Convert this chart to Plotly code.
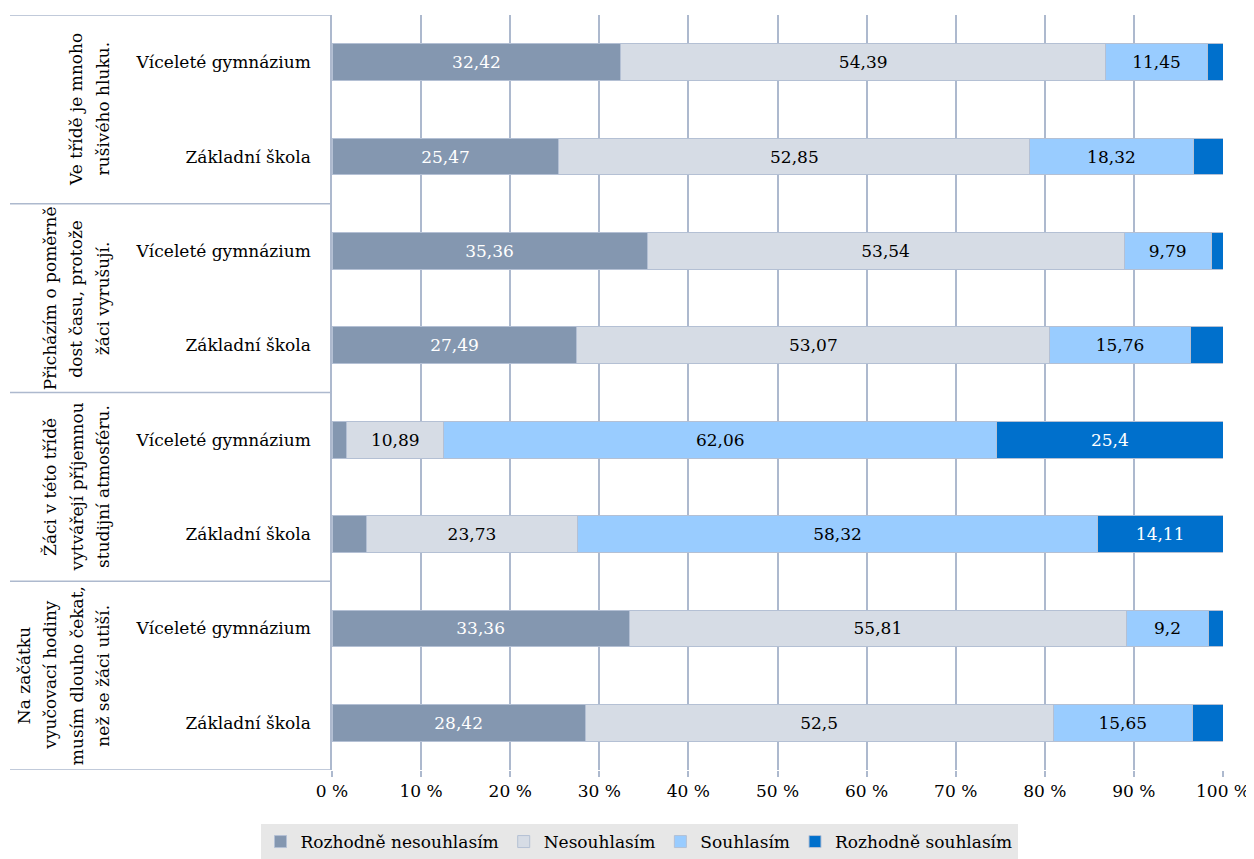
import plotly.graph_objects as go

# bars from top to bottom
schools = ["Víceleté gymnázium", "Základní škola"] * 4
statements = [
    ["Ve třídě je mnoho", "rušivého hluku."],
    ["Přicházím o poměrně", "dost času, protože", "žáci vyrušují."],
    ["Žáci v této třídě", "vytvářejí příjemnou", "studijní atmosféru."],
    ["Na začátku", "vyučovací hodiny", "musím dlouho čekat,", "než se žáci utiší."],
]

series_names = ["Rozhodně nesouhlasím", "Nesouhlasím", "Souhlasím", "Rozhodně souhlasím"]
rozhodne_nesouhlasim = [32.42, 25.47, 35.36, 27.49, 1.65, 3.84, 33.36, 28.42]
nesouhlasim = [54.39, 52.85, 53.54, 53.07, 10.89, 23.73, 55.81, 52.5]
souhlasim = [11.45, 18.32, 9.79, 15.76, 62.06, 58.32, 9.2, 15.65]
rozhodne_souhlasim = [1.74, 3.36, 1.31, 3.68, 25.4, 14.11, 1.63, 3.43]

# which bars carry a value label, per series
labelled = [
    [True, True, True, True, False, False, True, True],
    [True] * 8,
    [True] * 8,
    [False, False, False, False, True, True, False, False],
]

tick_labels = ["0 %", "10 %", "20 %", "30 %", "40 %", "50 %", "60 %", "70 %", "80 %", "90 %", "100 %"]
tick_values = [0, 10, 20, 30, 40, 50, 60, 70, 80, 90, 100]

colors = ["#8497B0", "#D6DCE5", "#99CCFF", "#0070CC"]
text_colors = ["white", "black", "black", "white"]
line_color = "#ADB9CE"
font_name = "DejaVu Serif"
fsize = 17

# the page body has an 8px margin on the left/top, so shift those margins
OFF = 8
W, H = 1254 - OFF, 859 - OFF
L, R, T, B = 332 - OFF, 31, 15 - OFF, 89
plot_w = W - L - R
plot_h = H - T - B

fig = go.Figure()
y_pos = list(range(len(schools)))
all_values = [rozhodne_nesouhlasim, nesouhlasim, souhlasim, rozhodne_souhlasim]

for name, values, color, tcolor, show in zip(series_names, all_values, colors, text_colors, labelled):
    texts = [str(v).replace(".", ",") if s else "" for v, s in zip(values, show)]
    fig.add_trace(go.Bar(
        y=y_pos, x=values, name=name, orientation="h",
        marker=dict(color=color, line=dict(color="#B4C0D4", width=1)),
        text=texts, textposition="inside", insidetextanchor="middle",
        textfont=dict(family=font_name, size=fsize, color=tcolor),
        width=0.39, hoverinfo="x+name",
    ))

fig.update_layout(
    width=W, height=H,
    barmode="stack",
    plot_bgcolor="white", paper_bgcolor="white",
    margin=dict(l=L, r=R, t=T, b=B, autoexpand=False),
    font=dict(family=font_name, size=fsize, color="black"),
    uniformtext=dict(mode="show", minsize=fsize),
    legend=dict(
        orientation="h", x=(639 - 332) / plot_w, xanchor="center",
        y=-(824 - 770) / plot_h, yanchor="top",
        bgcolor="#E7E7E7", font=dict(family=font_name, size=fsize),
        itemwidth=30, traceorder="normal",
    ),
    xaxis=dict(
        range=[0, 100], tickvals=tick_values, ticktext=tick_labels,
        showgrid=True, gridcolor=line_color, gridwidth=1.5,
        ticks="outside", ticklen=6, tickcolor=line_color, tickwidth=1.5,
        zeroline=False, showline=False, tickfont=dict(family=font_name, size=fsize),
        fixedrange=True, automargin=False,
    ),
    yaxis=dict(
        range=[len(schools) - 0.5, -0.5], tickvals=y_pos, ticktext=schools,
        showline=True, linecolor=line_color, linewidth=1.5,
        showgrid=False, ticks="", ticklabelstandoff=16,
        tickfont=dict(family=font_name, size=fsize),
        fixedrange=True, automargin=False,
    ),
)

# group separators and rotated group labels on the left
x_left = (10 - 332) / plot_w
for g in range(len(statements) + 1):
    y_line = g * 2 - 0.5
    fig.add_shape(type="line", xref="paper", yref="y", x0=x_left, x1=0, y0=y_line, y1=y_line,
                  line=dict(color=line_color, width=1.5), layer="above")

line_step = 26.5
for g, lines in enumerate(statements):
    n = len(lines)
    last_x = 103
    for i, line in enumerate(lines):
        px = last_x - (n - 1 - i) * line_step
        fig.add_annotation(
            text=line, textangle=-90, xref="paper", yref="y",
            x=(px - 332) / plot_w, y=g * 2 + 0.5, xanchor="center", yanchor="middle",
            showarrow=False, font=dict(family=font_name, size=fsize),
        )

fig.write_html("out.html")
